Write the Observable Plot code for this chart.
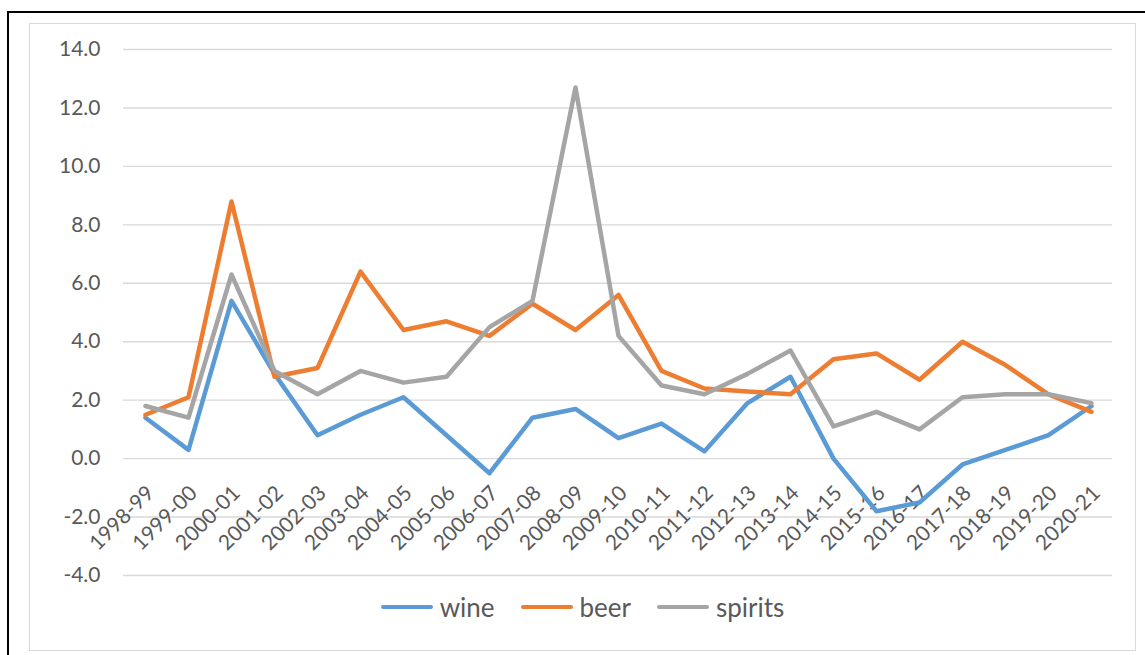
<!DOCTYPE html>
<html>
<head>
<meta charset="utf-8">
<script src="https://cdn.jsdelivr.net/npm/d3@7"></script>
<script src="https://cdn.jsdelivr.net/npm/@observablehq/plot@0.6"></script>
<style>
  html, body { margin: 0; padding: 0; background: #fff; }
  body { width: 1145px; height: 655px; position: relative; overflow: hidden; font-family: Lato, "Open Sans", sans-serif; }
  #frame { position: absolute; left: 7px; top: 11px; width: 1200px; height: 700px; border-left: 2px solid #000; border-top: 2px solid #000; box-sizing: border-box; }
  #area { position: absolute; left: 29px; top: 23px; width: 1107px; height: 628px; border: 1.5px solid #d9d9d9; box-sizing: border-box; }
  #chart { position: absolute; left: 0; top: 0; }
  #legend { position: absolute; left: 29px; width: 1107px; top: 591px; display: flex; justify-content: center; align-items: center; gap: 26px; color: #595959; font-size: 26px; }
  .item { display: flex; align-items: center; gap: 7px; }
  .swatch { width: 52px; height: 4.5px; border-radius: 2px; }
</style>
</head>
<body>
<div id="frame"></div>
<div id="area"></div>
<div id="chart"></div>
<div id="legend"></div>
<script>
// Year-on-year change by beverage type, financial years 1998-99 to 2020-21
const periods = ["1998-99","1999-00","2000-01","2001-02","2002-03","2003-04","2004-05","2005-06","2006-07","2007-08","2008-09","2009-10","2010-11","2011-12","2012-13","2013-14","2014-15","2015-16","2016-17","2017-18","2018-19","2019-20","2020-21"];
const wine    = [1.4, 0.3, 5.4, 2.9, 0.8, 1.5, 2.1, 0.8, -0.5, 1.4, 1.7, 0.7, 1.2, 0.25, 1.9, 2.8, 0.0, -1.8, -1.5, -0.2, 0.3, 0.8, 1.8];
const beer    = [1.5, 2.1, 8.8, 2.8, 3.1, 6.4, 4.4, 4.7, 4.2, 5.3, 4.4, 5.6, 3.0, 2.4, 2.3, 2.2, 3.4, 3.6, 2.7, 4.0, 3.2, 2.2, 1.6];
const spirits = [1.8, 1.4, 6.3, 3.0, 2.2, 3.0, 2.6, 2.8, 4.5, 5.4, 12.7, 4.2, 2.5, 2.2, 2.9, 3.7, 1.1, 1.6, 1.0, 2.1, 2.2, 2.2, 1.9];
const seriesNames  = ["wine", "beer", "spirits"];
const seriesColors = ["#5b9bd5", "#ed7d31", "#a5a5a5"];
const yTicks = [-4, -2, 0, 2, 4, 6, 8, 10, 12, 14];

const seriesValues = {wine, beer, spirits};
const rows = seriesNames.flatMap(name =>
  periods.map((period, i) => ({period, series: name, value: seriesValues[name][i]}))
);

const chart = Plot.plot({
  width: 1145,
  height: 600,
  marginLeft: 123,
  marginRight: 33,
  marginTop: 49,
  marginBottom: 25,
  style: {background: "transparent", color: "#595959", fontFamily: "Lato, 'Open Sans', sans-serif"},
  x: {type: "point", domain: periods, padding: 0.5, axis: null},
  y: {domain: [-4, 14], axis: null},
  color: {domain: seriesNames, range: seriesColors},
  marks: [
    Plot.gridY(yTicks, {stroke: "#d9d9d9", strokeOpacity: 1, strokeWidth: 1.4}),
    Plot.axisY(yTicks, {label: null, tickSize: 0, tickPadding: 23, tickFormat: d => d.toFixed(1), fontSize: 21, fill: "#595959"}),
    // category labels hang diagonally just under the zero line
    Plot.text(periods, {x: d => d, y: () => 0, text: d => d, rotate: -45, textAnchor: "end", dx: 5, dy: 31, fontSize: 21, fill: "#595959"}),
    Plot.line(rows, {x: "period", y: "value", z: "series", stroke: "series", strokeWidth: 4.5, strokeLinejoin: "round", strokeLinecap: "round"})
  ]
});
document.getElementById("chart").appendChild(chart);

const legend = document.getElementById("legend");
seriesNames.forEach((name, i) => {
  const item = document.createElement("div");
  item.className = "item";
  const sw = document.createElement("div");
  sw.className = "swatch";
  sw.style.background = seriesColors[i];
  const label = document.createElement("span");
  label.textContent = name;
  item.appendChild(sw);
  item.appendChild(label);
  legend.appendChild(item);
});
</script>
</body>
</html>
